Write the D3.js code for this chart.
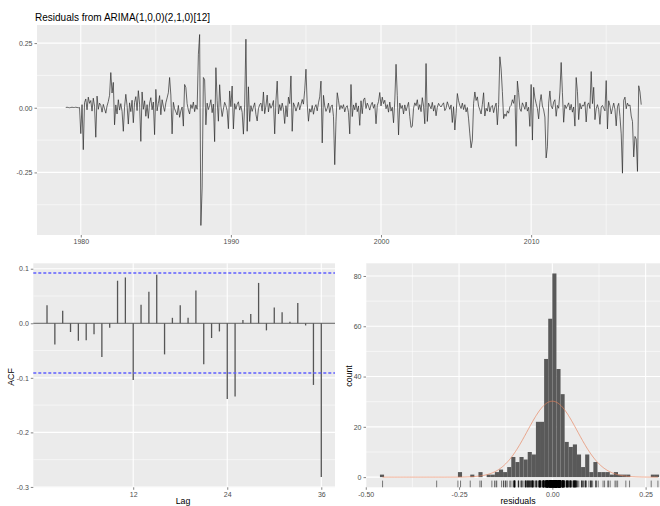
<!DOCTYPE html>
<html>
<head>
<meta charset="utf-8">
<script src="https://cdn.jsdelivr.net/npm/d3@7"></script>
<style>
  body { margin: 0; background: #fff; }
  svg text { font-family: "Liberation Sans", Arial, sans-serif; }
</style>
</head>
<body>
<div id="chart"></div>
<script>
// ---- data ----
var chartTitle = "Residuals from ARIMA(1,0,0)(2,1,0)[12]";
var startYear = 1979;   // monthly series, Jan 1979 - May 2017

var residuals = [
  0.001, 0.002, 0.001, 0.000, 0.001, 0.002, 0.001, 0.001, 0.002, 0.001, 0.000, 0.001,      // 1979
 -0.100, 0.012,-0.162, 0.020, 0.034,-0.008, 0.041, 0.017, 0.028,-0.013, 0.037, 0.006,      // 1980
 -0.114, 0.045,-0.006, 0.018, 0.009,-0.017, 0.013,-0.004,-0.021, 0.007, 0.024, 0.048,      // 1981
  0.136, 0.057, 0.098,-0.066, 0.011,-0.024, 0.031,-0.009, 0.016,-0.014,-0.091, 0.004,      // 1982
  0.052, 0.008,-0.063, 0.019,-0.015, 0.029,-0.058, 0.021, 0.043,-0.011, 0.066, 0.014,      // 1983
 -0.130, 0.061,-0.006, 0.027,-0.033, 0.012,-0.041, 0.018, 0.039,-0.008, 0.022,-0.104,      // 1984
  0.071,-0.012, 0.017, 0.047,-0.027, 0.031, 0.006,-0.014, 0.019, 0.038, 0.058, 0.117,      // 1985
  0.049,-0.101, 0.021,-0.004,-0.016,-0.028, 0.009,-0.037,-0.012, 0.003,-0.071, 0.090,      // 1986
  0.078, 0.016,-0.009,-0.024, 0.012,-0.003, 0.022,-0.015, 0.011,-0.006, 0.207, 0.283,      // 1987
 -0.455,-0.310, 0.117, 0.108,-0.066, 0.018,-0.007, 0.009, 0.031,-0.019, 0.014,-0.131,      // 1988
  0.155, 0.027,-0.052, 0.089, 0.006,-0.034,-0.005, 0.021, 0.008,-0.011,-0.081, 0.065,      // 1989
  0.004, 0.084,-0.082, 0.016,-0.006, 0.013, 0.023,-0.009, 0.007,-0.018,-0.102, 0.011,      // 1990
  0.265,-0.091, 0.081,-0.053, 0.008,-0.014, 0.003, 0.019,-0.026,-0.051,-0.004, 0.012,      // 1991
  0.018,-0.013, 0.061,-0.023, 0.007, 0.049,-0.016, 0.017,-0.002, 0.009, 0.028,-0.101,      // 1992
  0.027, 0.103,-0.024, 0.012,-0.011, 0.018,-0.006,-0.061, 0.008,-0.035, 0.041, 0.016,      // 1993
  0.123,-0.091, 0.019, 0.006,-0.013, 0.003, 0.021,-0.008, 0.011, 0.032, 0.014, 0.068,      // 1994
  0.149, 0.015,-0.052,-0.004,-0.017, 0.009,-0.025, 0.001, 0.012,-0.012, 0.019, 0.042,      // 1995
  0.103,-0.136, 0.048, 0.007,-0.014,-0.002, 0.018,-0.019, 0.004, 0.011,-0.033,-0.220,      // 1996
 -0.052, 0.058, 0.029,-0.007, 0.009,-0.003, 0.012,-0.016, 0.002, 0.008,-0.018,-0.101,      // 1997
  0.090,-0.034, 0.011,-0.008, 0.019,-0.015, 0.007,-0.068, 0.027,-0.023, 0.031, 0.038,      // 1998
 -0.003, 0.018, 0.006,-0.009, 0.011, 0.021,-0.002, 0.013,-0.062, 0.008, 0.024, 0.059,      // 1999
  0.007, 0.041, 0.016, 0.029,-0.004, 0.012,-0.017, 0.022,-0.013, 0.002,-0.058, 0.027,      // 2000
  0.168, 0.047,-0.105, 0.018,-0.003, 0.009,-0.024, 0.011,-0.012, 0.004, 0.021,-0.034,      // 2001
 -0.076,-0.072,-0.002, 0.019, 0.008, 0.031,-0.007, 0.012,-0.015, 0.039, 0.006,-0.062,      // 2002
  0.171,-0.053, 0.018, 0.007,-0.004, 0.021,-0.013, 0.009,-0.031, 0.002, 0.017, 0.008,      // 2003
  0.003, 0.012, 0.019,-0.011,-0.002, 0.023, 0.008,-0.006, 0.011,-0.057, 0.004,-0.086,      // 2004
 -0.023, 0.055, 0.027, 0.008,-0.003, 0.018,-0.007, 0.012,-0.016, 0.001,-0.043,-0.101,      // 2005
 -0.155,-0.125, 0.017, 0.061, 0.028, 0.042, 0.006,-0.008,-0.024, 0.013, 0.058,-0.032,      // 2006
 -0.002,-0.013, 0.021,-0.016, 0.004, 0.009,-0.019, 0.003, 0.018,-0.066, 0.012, 0.197,      // 2007
  0.150, 0.063,-0.042,-0.024,-0.033,-0.012,-0.021, 0.004, 0.009, 0.031, 0.017, 0.049,      // 2008
 -0.149, 0.103, 0.058,-0.004,-0.014, 0.019, 0.008,-0.006, 0.022,-0.013, 0.002,-0.072,      // 2009
  0.090,-0.125, 0.079, 0.038, 0.016,-0.003,-0.043, 0.021, 0.051, 0.007,-0.008,-0.036,      // 2010
 -0.194,-0.151, 0.018, 0.065, 0.007,-0.004, 0.022, 0.031,-0.033, 0.009,-0.002, 0.061,      // 2011
  0.175, 0.058,-0.056, 0.011,-0.003, 0.008, 0.019,-0.009, 0.013,-0.017, 0.003,-0.071,      // 2012
  0.117, 0.062,-0.046, 0.017,-0.005, 0.011, 0.006, 0.023,-0.055, 0.012, 0.019,-0.003,      // 2013
  0.140, 0.016, 0.079,-0.046,-0.004, 0.012,-0.007,-0.064, 0.003, 0.009,-0.002,-0.012,      // 2014
  0.105,-0.082, 0.027, 0.008,-0.024,-0.003, 0.018,-0.006,-0.070, 0.004, 0.017,-0.034,      // 2015
 -0.101,-0.253, 0.029, 0.041,-0.004, 0.018, 0.007, 0.011,-0.032,-0.053,-0.190,-0.111,      // 2016
 -0.121,-0.246, 0.085, 0.061, 0.012                                                         // 2017
];

// autocorrelations, lags 1..36
var acfValues = [
  0.033,-0.039, 0.023,-0.016,-0.032,-0.031,-0.020,-0.062,-0.008, 0.078, 0.084,-0.104,
  0.034, 0.058, 0.089,-0.057, 0.010, 0.033, 0.010, 0.060,-0.075,-0.027,-0.015,-0.139,
 -0.134, 0.006, 0.017, 0.074,-0.013, 0.029, 0.020, 0.003, 0.037,-0.004,-0.113,-0.282
];

// histogram: bin width and counts, first bin starts at firstBin * binWidth
var binWidth = 0.011;
var firstBin = -42;
var binCounts = [
  1, 0, 0, 0, 0, 0, 0, 0, 0, 0, 0, 0, 0, 0, 0, 0, 0, 0, 0, 2, 0, 0, 1, 0, 2, 0,
  1, 1, 2, 3, 2, 4, 8, 6, 8, 7, 10, 9, 22, 22, 47, 63,
  81, 43, 33, 14, 12, 13, 9, 4, 9, 2, 6, 2, 2, 2, 1, 2, 1, 1, 1, 0, 0, 0, 0, 0, 1, 1
];
var densityMean = 0, densitySd = 0.067;

// axis ticks
var topXTicks = [1980, 1990, 2000, 2010], topXMinor = [1985, 1995, 2005, 2015];
var topYTicks = [-0.25, 0, 0.25], topYMinor = [-0.375, -0.125, 0.125];
var acfXTicks = [12, 24, 36];
var acfYTicks = [-0.3, -0.2, -0.1, 0, 0.1], acfYMinor = [-0.25, -0.15, -0.05, 0.05];
var histXTicks = [-0.5, -0.25, 0, 0.25], histXMinor = [-0.375, -0.125, 0.125];
var histYTicks = [0, 20, 40, 60, 80], histYMinor = [10, 30, 50, 70];

// ---- build ----
var W = 660, H = 506;
var svg = d3.select("#chart").append("svg").attr("width", W).attr("height", H);

// ggplot style 5% expansion of a [min,max] extent
function expand(ext) {
  var s = ext[1] - ext[0];
  return [ext[0] - 0.05 * s, ext[1] + 0.05 * s];
}

// grey panel with white grid, then the axes
function drawPanel(g, xs, ys, xMajor, xMinor, yMajor, yMinor, xFmt, yFmt) {
  var x0 = xs.range()[0], x1 = xs.range()[1], y0 = ys.range()[1], y1 = ys.range()[0];
  g.append("rect").attr("x", x0).attr("y", y0).attr("width", x1 - x0).attr("height", y1 - y0)
    .style("fill", "#EBEBEB");
  g.selectAll(null).data(yMinor).enter().append("line")
    .attr("x1", x0).attr("x2", x1).attr("y1", ys).attr("y2", ys)
    .style("stroke", "#fff").style("stroke-width", 0.55);
  g.selectAll(null).data(xMinor).enter().append("line")
    .attr("y1", y0).attr("y2", y1).attr("x1", xs).attr("x2", xs)
    .style("stroke", "#fff").style("stroke-width", 0.55);
  g.selectAll(null).data(yMajor).enter().append("line")
    .attr("x1", x0).attr("x2", x1).attr("y1", ys).attr("y2", ys)
    .style("stroke", "#fff").style("stroke-width", 1.1);
  g.selectAll(null).data(xMajor).enter().append("line")
    .attr("y1", y0).attr("y2", y1).attr("x1", xs).attr("x2", xs)
    .style("stroke", "#fff").style("stroke-width", 1.1);

  var xAxis = d3.axisBottom(xs).tickValues(xMajor).tickFormat(xFmt).tickSize(2.5).tickPadding(2);
  var yAxis = d3.axisLeft(ys).tickValues(yMajor).tickFormat(yFmt).tickSize(2.5).tickPadding(2);
  var ax = g.append("g").attr("transform", "translate(0," + y1 + ")").call(xAxis);
  var ay = g.append("g").attr("transform", "translate(" + x0 + ",0)").call(yAxis);
  [ax, ay].forEach(function(a) {
    a.select(".domain").remove();
    a.selectAll(".tick line").style("stroke", "#333").style("stroke-width", 0.6);
    a.selectAll(".tick text").style("fill", "#4D4D4D").style("font-size", "7px")
      .style("font-family", "'Liberation Sans', Arial, sans-serif");
  });
}

function fmt2(d) { return d.toFixed(2); }
function fmt1(d) { return d.toFixed(1); }
function fmt0(d) { return String(d); }

// ---- top: residual series ----
var n = residuals.length;
var times = residuals.map(function(d, i) { return startYear + i / 12; });
var xTop = d3.scaleLinear().domain(expand(d3.extent(times))).range([37, 670]);
var yTop = d3.scaleLinear().domain(expand(d3.extent(residuals))).range([235, 25]);
var gTop = svg.append("g");
drawPanel(gTop, xTop, yTop, topXTicks, topXMinor, topYTicks, topYMinor, fmt0, fmt2);

var line = d3.line()
  .x(function(d, i) { return xTop(times[i]); })
  .y(function(d) { return yTop(d); });
gTop.append("path").datum(residuals).attr("d", line)
  .style("fill", "none").style("stroke", "#2b2b2b").style("stroke-width", 0.7);

svg.append("text").attr("x", 35).attr("y", 21).style("font-size", "10px").style("fill", "#000")
  .text(chartTitle);

// ---- bottom left: ACF ----
var lags = d3.range(1, acfValues.length + 1);
var ci = 1.96 / Math.sqrt(n);
var xAcf = d3.scaleLinear().domain(expand(d3.extent(lags))).range([33.3, 335]);
var yAcf = d3.scaleLinear().domain(expand(d3.extent(acfValues.concat([ci, -ci])))).range([487.3, 263.3]);
var gAcf = svg.append("g");
drawPanel(gAcf, xAcf, yAcf, acfXTicks, [], acfYTicks, acfYMinor, fmt0, fmt1);

gAcf.append("line").attr("x1", xAcf.range()[0]).attr("x2", xAcf.range()[1])
  .attr("y1", yAcf(0)).attr("y2", yAcf(0))
  .style("stroke", "#333").style("stroke-width", 0.8);
gAcf.selectAll(".acfbar").data(acfValues).enter().append("line").attr("class", "acfbar")
  .attr("x1", function(d, i) { return xAcf(lags[i]); })
  .attr("x2", function(d, i) { return xAcf(lags[i]); })
  .attr("y1", yAcf(0)).attr("y2", function(d) { return yAcf(d); })
  .style("stroke", "#555").style("stroke-width", 1.3);
// confidence bounds, dashed blue (kept on a two-row band so the colour survives)
function ciY(d) { return 2 * Math.floor(yAcf(d) / 2) + 1; }
gAcf.selectAll(".ciline").data([ci, -ci]).enter().append("line").attr("class", "ciline")
  .attr("x1", xAcf.range()[0]).attr("x2", xAcf.range()[1])
  .attr("y1", ciY).attr("y2", ciY)
  .attr("stroke", "#6060ff").attr("stroke-width", 1.4).attr("stroke-dasharray", "3,2");

svg.append("text").attr("x", 183).attr("y", 503.5).attr("text-anchor", "middle")
  .style("font-size", "8.8px").text("Lag");
svg.append("text").attr("transform", "translate(14.3,377) rotate(-90)").attr("text-anchor", "middle")
  .style("font-size", "8.8px").text("ACF");

// ---- bottom right: histogram ----
var bins = binCounts.map(function(c, i) {
  var k = firstBin + i;
  return { x0: k * binWidth, x1: (k + 1) * binWidth, count: c };
});
var binExt = [bins[0].x0, bins[bins.length - 1].x1];
var resExt = d3.extent(residuals);
var xHist = d3.scaleLinear()
  .domain(expand([Math.min(binExt[0], resExt[0]), Math.max(binExt[1], resExt[1])]))
  .range([366, 673]);
var yHist = d3.scaleLinear().domain(expand([0, d3.max(binCounts)])).range([487.3, 263.3]);
var gHist = svg.append("g");
drawPanel(gHist, xHist, yHist, histXTicks, histXMinor, histYTicks, histYMinor, fmt2, fmt0);

gHist.selectAll(".bar").data(bins.filter(function(b) { return b.count > 0; })).enter()
  .append("rect").attr("class", "bar")
  .attr("x", function(d) { return xHist(d.x0); })
  .attr("width", function(d) { return xHist(d.x1) - xHist(d.x0); })
  .attr("y", function(d) { return yHist(d.count); })
  .attr("height", function(d) { return yHist(0) - yHist(d.count); })
  .style("fill", "#595959");

// normal curve scaled to counts
var curveX = d3.range(resExt[0], resExt[1], 0.002).concat([resExt[1]]);
var scaleN = n * binWidth / (densitySd * Math.sqrt(2 * Math.PI));
var curve = d3.line()
  .x(function(d) { return xHist(d); })
  .y(function(d) { var z = (d - densityMean) / densitySd; return yHist(scaleN * Math.exp(-0.5 * z * z)); });
gHist.append("path").datum(curveX).attr("d", curve)
  .style("fill", "none").style("stroke", "#E8825C").style("stroke-width", 0.8).style("opacity", 0.85);

// rug
var rugTop = yHist.range()[0] - 0.03 * (yHist.range()[0] - yHist.range()[1]);
gHist.selectAll(".rug").data(residuals).enter().append("line").attr("class", "rug")
  .attr("x1", function(d) { return xHist(d); }).attr("x2", function(d) { return xHist(d); })
  .attr("y1", yHist.range()[0]).attr("y2", rugTop)
  .style("stroke", "#000").style("stroke-width", 0.5);

svg.append("text").attr("x", 518).attr("y", 503.5).attr("text-anchor", "middle")
  .style("font-size", "8.8px").text("residuals");
svg.append("text").attr("transform", "translate(352,376) rotate(-90)").attr("text-anchor", "middle")
  .style("font-size", "8.8px").text("count");
</script>
</body>
</html>
